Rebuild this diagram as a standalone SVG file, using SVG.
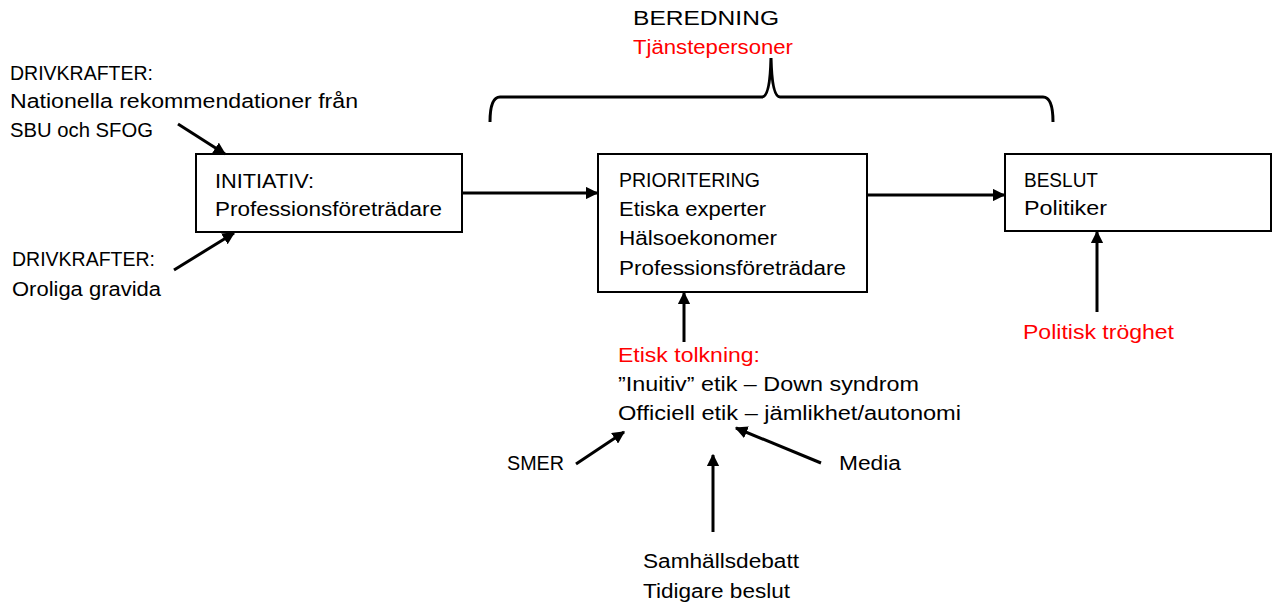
<svg xmlns="http://www.w3.org/2000/svg" width="1274" height="608" viewBox="0 0 1274 608">
<defs>
<marker id="ah" viewBox="0 0 10 10" refX="9" refY="5" markerWidth="4.2" markerHeight="4.2" orient="auto" markerUnits="strokeWidth">
<path d="M0,0 L10,5 L0,10 Z" fill="#000"/>
</marker>
</defs>
<style>
text{font-family:"Liberation Sans",Arial,sans-serif;font-size:20px;fill:#000}
.red{fill:#ff0000}
.box{fill:#fff;stroke:#000;stroke-width:2}
.con line{stroke:#000;stroke-width:3;marker-end:url(#ah)}
.brace{fill:none;stroke:#000;stroke-width:3}
</style>
<rect width="1274" height="608" fill="#fff"/>

<g id="beredning">
<text x="633" y="25" textLength="146" lengthAdjust="spacingAndGlyphs">BEREDNING</text>
<text x="633" y="54" class="red" textLength="160" lengthAdjust="spacingAndGlyphs">Tjänstepersoner</text>
<path class="brace" d="M490,122 Q490,97 500,97 L762,97 Q770,97 771,58 Q772,97 780,97 L1043,97 Q1053,97 1053,122"/>
</g>

<g id="drivkrafter1">
<text x="10" y="80" textLength="143" lengthAdjust="spacingAndGlyphs">DRIVKRAFTER:</text>
<text x="10" y="108" textLength="348" lengthAdjust="spacingAndGlyphs">Nationella rekommendationer från</text>
<text x="10" y="137" textLength="143" lengthAdjust="spacingAndGlyphs">SBU och SFOG</text>
</g>

<g id="drivkrafter2">
<text x="12" y="266" textLength="143" lengthAdjust="spacingAndGlyphs">DRIVKRAFTER:</text>
<text x="12" y="296" textLength="149" lengthAdjust="spacingAndGlyphs">Oroliga gravida</text>
</g>

<g id="initiativ">
<rect class="box" x="196" y="154" width="266" height="78"/>
<text x="215" y="188" textLength="99" lengthAdjust="spacingAndGlyphs">INITIATIV:</text>
<text x="215" y="216" textLength="227" lengthAdjust="spacingAndGlyphs">Professionsföreträdare</text>
</g>

<g id="prioritering">
<rect class="box" x="598" y="154" width="269" height="138"/>
<text x="619" y="187" textLength="141" lengthAdjust="spacingAndGlyphs">PRIORITERING</text>
<text x="619" y="216" textLength="147" lengthAdjust="spacingAndGlyphs">Etiska experter</text>
<text x="619" y="245" textLength="158" lengthAdjust="spacingAndGlyphs">Hälsoekonomer</text>
<text x="619" y="275" textLength="227" lengthAdjust="spacingAndGlyphs">Professionsföreträdare</text>
</g>

<g id="beslut">
<rect class="box" x="1005" y="154" width="266" height="77"/>
<text x="1024" y="187" textLength="74" lengthAdjust="spacingAndGlyphs">BESLUT</text>
<text x="1024" y="215" textLength="83" lengthAdjust="spacingAndGlyphs">Politiker</text>
</g>

<g id="politisk">
<text x="1023" y="339" class="red" textLength="151" lengthAdjust="spacingAndGlyphs">Politisk tröghet</text>
</g>

<g id="etisk">
<text x="618" y="362" class="red" textLength="142" lengthAdjust="spacingAndGlyphs">Etisk tolkning:</text>
<text x="618" y="391" textLength="301" lengthAdjust="spacingAndGlyphs">”Inuitiv” etik – Down syndrom</text>
<text x="618" y="420" textLength="343" lengthAdjust="spacingAndGlyphs">Officiell etik – jämlikhet/autonomi</text>
</g>

<g id="smer">
<text x="507" y="470" textLength="57" lengthAdjust="spacingAndGlyphs">SMER</text>
</g>
<g id="media">
<text x="839" y="470" textLength="62" lengthAdjust="spacingAndGlyphs">Media</text>
</g>
<g id="samhall">
<text x="643" y="568" textLength="156" lengthAdjust="spacingAndGlyphs">Samhällsdebatt</text>
<text x="643" y="598" textLength="147" lengthAdjust="spacingAndGlyphs">Tidigare beslut</text>
</g>

<g id="connectors" class="con">
<line x1="462" y1="193" x2="597" y2="193"/>
<line x1="867" y1="195" x2="1004" y2="195"/>
<line x1="178" y1="124" x2="225" y2="154"/>
<line x1="174" y1="270" x2="234" y2="233"/>
<line x1="1097" y1="312" x2="1097" y2="232"/>
<line x1="684" y1="342" x2="684" y2="293"/>
<line x1="576" y1="464" x2="624" y2="432"/>
<line x1="821" y1="463" x2="736" y2="428"/>
<line x1="713" y1="532" x2="713" y2="455"/>
</g>
</svg>
